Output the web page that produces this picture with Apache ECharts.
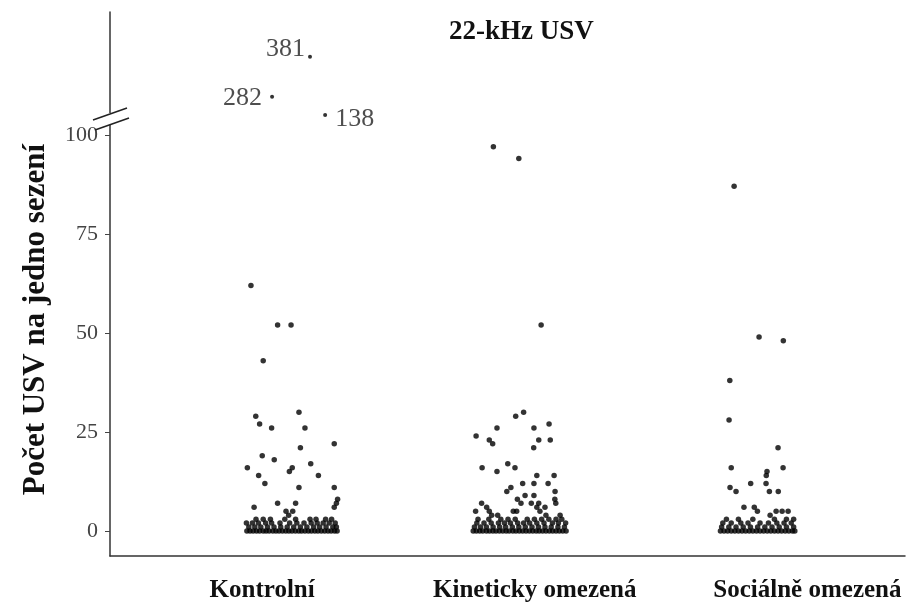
<!DOCTYPE html>
<html><head><meta charset="utf-8">
<script src="https://cdn.jsdelivr.net/npm/echarts@6/dist/echarts.min.js"></script>
<style>html,body{margin:0;padding:0;background:#fff}#c{width:920px;height:603px}</style>
</head><body><div id="c"></div>
<script>
const categories = ['Kontrolní', 'Kineticky omezená', 'Sociálně omezená'];
const yTicks = [0, 25, 50, 75, 100];
const chartTitle = '22-kHz USV';
const yTitle = 'Počet USV na jedno sezení';

// [jitter within category, USV per session]
const kontrolniPoints = [
  [-0.121,62],[-0.010,52],[0.046,52],[-0.070,43],[-0.101,29],[0.079,30],[-0.085,27],[-0.035,26],
  [0.104,26],[0.226,22],[0.085,21],[-0.074,19],[-0.024,18],[-0.136,16],[0.051,16],[0.039,15],
  [0.128,17],[-0.089,14],[0.160,14],[-0.063,12],[0.079,11],[0.226,11],[0.240,8],[0.235,7],
  [0.226,6],[-0.108,6],[-0.010,7],[0.065,7],[0.025,5],[0.036,4],[0.053,5]
];
const kontrolniZero = [-0.138,-0.125,-0.112,-0.098,-0.085,-0.07,-0.058,-0.045,-0.03,-0.017,-0.004,0.01,0.024,0.037,0.05,0.064,0.078,0.09,0.104,0.118,0.131,0.145,0.158,0.172,0.186,0.2,0.213,0.227,0.238];
const kontrolniOne = [-0.13,-0.105,-0.08,-0.052,-0.025,0.003,0.03,0.057,0.085,0.112,0.14,0.165,0.192,0.22,0.235];
const kontrolniTwo = [-0.14,-0.115,-0.09,-0.06,-0.035,0.0,0.04,0.07,0.1,0.13,0.155,0.18,0.205,0.23];
const kontrolniThree = [-0.1,-0.07,-0.04,0.02,0.065,0.125,0.15,0.19,0.215];

const kinetickyPoints = [
  [-0.111,97],[-0.005,94],[0.088,52],[0.015,30],[-0.018,29],[-0.096,26],[0.058,26],[0.121,27],
  [-0.183,24],[-0.128,23],[-0.114,22],[0.078,23],[0.126,23],[0.057,21],[-0.158,16],[-0.096,15],
  [-0.051,17],[-0.021,16],[0.070,14],[0.142,14],[0.011,12],[0.058,12],[0.117,12],[-0.055,10],
  [-0.038,11],[0.146,10],[0.021,9],[0.058,9],[-0.011,8],[0.004,7],[0.047,7],[0.078,7],[0.145,8],
  [0.149,7],[-0.160,7],[-0.185,5],[-0.139,6],[-0.128,5],[-0.118,4],[-0.093,4],[-0.028,5],
  [-0.014,5],[0.070,6],[0.083,5],[0.104,6],[0.108,4],[0.167,4],[0.174,3]
];
const kinetickyZero = [-0.195,-0.182,-0.168,-0.155,-0.14,-0.127,-0.113,-0.1,-0.086,-0.072,-0.058,-0.045,-0.03,-0.017,-0.003,0.011,0.025,0.039,0.053,0.067,0.08,0.094,0.108,0.122,0.136,0.15,0.164,0.178,0.192];
const kinetickyOne = [-0.19,-0.165,-0.14,-0.112,-0.085,-0.06,-0.032,-0.005,0.022,0.05,0.077,0.104,0.13,0.158,0.185];
const kinetickyTwo = [-0.18,-0.15,-0.12,-0.09,-0.065,-0.04,-0.01,0.015,0.04,0.07,0.1,0.135,0.16,0.19];
const kinetickyThree = [-0.175,-0.13,-0.08,-0.05,-0.02,0.03,0.06,0.09,0.12,0.15];

const socialniPoints = [
  [-0.108,87],[-0.004,49],[0.097,48],[-0.126,38],[-0.129,28],[0.075,21],[-0.120,16],[0.096,16],
  [0.029,15],[0.026,14],[-0.039,12],[0.025,12],[-0.125,11],[-0.100,10],[0.039,10],[0.076,10],
  [-0.067,6],[-0.024,6],[-0.011,5],[0.042,4],[0.067,5],[0.092,5],[0.117,5]
];
const socialniZero = [-0.165,-0.15,-0.135,-0.12,-0.105,-0.09,-0.075,-0.06,-0.045,-0.03,-0.015,0.0,0.015,0.03,0.045,0.06,0.075,0.09,0.105,0.12,0.135,0.145];
const socialniOne = [-0.16,-0.13,-0.1,-0.07,-0.04,-0.01,0.02,0.05,0.08,0.11,0.14];
const socialniTwo = [-0.155,-0.12,-0.08,-0.05,0.0,0.035,0.07,0.1,0.13];
const socialniThree = [-0.14,-0.09,-0.03,0.06,0.11,0.14];

// outliers of the control group, drawn above the axis break
const outlierValues = [282, 381, 138];
const outlierJitter = [-0.033, 0.125, 0.188];
const outlierBrokenAxisPos = [109.6, 119.7, 105.0];

function groupData(idx, pts, zero, one, two, three) {
  const c = idx + 1;
  const out = pts.map(p => [c + p[0], p[1]]);
  [[zero,0],[one,1],[two,2],[three,3]].forEach(([arr, v]) => arr.forEach(j => out.push([c + j, v])));
  return out;
}

const serif = '"Liberation Serif", "DejaVu Serif", serif';
const chart = echarts.init(document.getElementById('c'), null, {renderer: 'canvas'});

const labelSides = [
  {position: 'left', distance: 8, offset: [0, 1]},
  {position: 'left', distance: 3, offset: [0, -8]},
  {position: 'right', distance: 8, offset: [0, 4]}
];

const dotStyle = {color: '#000'};
chart.setOption({
  animation: false,
  backgroundColor: '#fff',
  title: {
    text: chartTitle, left: 444, top: 14,
    textStyle: {fontFamily: serif, fontWeight: 'bold', fontSize: 27, color: '#111'}
  },
  grid: {left: 110, right: 15, top: 12, bottom: 46},
  xAxis: [
    {
      type: 'value', min: 0.2917, max: 3.604,
      axisLine: {show: true, onZero: false, lineStyle: {color: '#333', width: 1.5}},
      axisTick: {show: false}, axisLabel: {show: false}, splitLine: {show: false}
    },
    {
      type: 'value', min: 0.442, max: 3.358, position: 'bottom',
      axisLine: {show: false, onZero: false}, axisTick: {show: false}, splitLine: {show: false},
      axisLabel: {
        customValues: [1, 2, 3],
        formatter: v => categories[Math.round(v) - 1] || '',
        fontFamily: serif, fontWeight: 'bold', fontSize: 25, color: '#111', margin: 22
      }
    }
  ],
  yAxis: {
    type: 'value', min: -6.3, max: 131,
    axisLine: {show: true, onZero: false, lineStyle: {color: '#333', width: 1.5}},
    axisTick: {show: true, customValues: yTicks, length: 5, lineStyle: {color: '#444'}},
    axisLabel: {customValues: yTicks, fontFamily: serif, fontSize: 22, color: '#444', margin: 12},
    splitLine: {show: false}
  },
  series: [
    {type: 'scatter', symbolSize: 5.5, itemStyle: dotStyle,
     data: groupData(0, kontrolniPoints, kontrolniZero, kontrolniOne, kontrolniTwo, kontrolniThree)},
    {type: 'scatter', symbolSize: 5.5, itemStyle: dotStyle,
     data: groupData(1, kinetickyPoints, kinetickyZero, kinetickyOne, kinetickyTwo, kinetickyThree)},
    {type: 'scatter', symbolSize: 5.5, itemStyle: dotStyle,
     data: groupData(2, socialniPoints, socialniZero, socialniOne, socialniTwo, socialniThree)},
    {type: 'scatter', symbolSize: 4, itemStyle: dotStyle,
     data: outlierValues.map((v, i) => ({
       value: [1 + outlierJitter[i], outlierBrokenAxisPos[i]],
       label: Object.assign({show: true, formatter: String(v),
         fontFamily: serif, fontSize: 26, color: '#222'}, labelSides[i])
     }))}
  ],
  graphic: [
    {type: 'text', left: 20, top: 144, rotation: Math.PI / 2,
     style: {text: yTitle, font: 'bold 31px "Liberation Serif", serif', fill: '#111'}},
    {type: 'rect', shape: {x: 106, y: 113, width: 8, height: 12}, style: {fill: '#fff'}, z: 100},
    {type: 'line', shape: {x1: 93, y1: 120, x2: 127, y2: 108}, style: {stroke: '#222', lineWidth: 1.5}, z: 101},
    {type: 'line', shape: {x1: 95, y1: 130, x2: 129, y2: 118}, style: {stroke: '#222', lineWidth: 1.5}, z: 101}
  ]
});
</script></body></html>
